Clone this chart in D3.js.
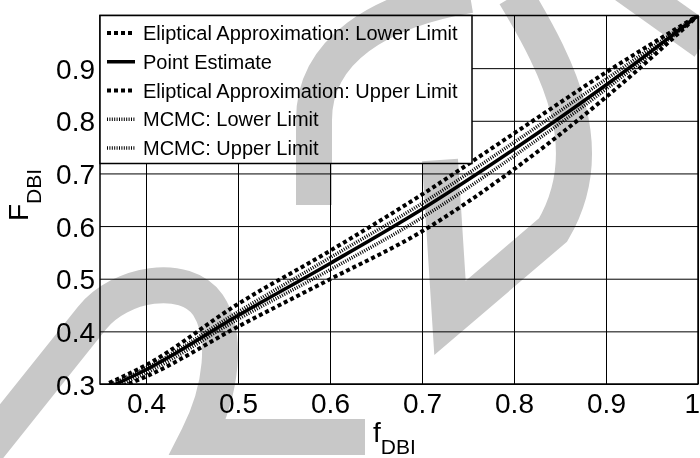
<!DOCTYPE html>
<html>
<head>
<meta charset="utf-8">
<script src="https://cdn.jsdelivr.net/npm/d3@7"></script>
<style>
  body { margin: 0; background: #fff; }
  svg { display: block; font-family: "Liberation Sans", Arial, sans-serif; }
</style>
</head>
<body>
<div id="chart"></div>
<script>
// values
var fDBI          = [0.36, 0.40, 0.50, 0.60, 0.70, 0.80, 0.90, 1.00];
var ellipLower    = [0.286, 0.314, 0.409, 0.499, 0.590, 0.708, 0.845, 1.00];
var pointEstimate = [0.294, 0.327, 0.430, 0.529, 0.632, 0.746, 0.868, 1.00];
var ellipUpper    = [0.302, 0.336, 0.452, 0.553, 0.660, 0.776, 0.892, 1.00];
var mcmcLower     = [0.290, 0.321, 0.423, 0.517, 0.616, 0.733, 0.860, 1.00];
var mcmcUpper     = [0.298, 0.330, 0.437, 0.540, 0.643, 0.759, 0.879, 1.00];

var xTicks = [0.4, 0.5, 0.6, 0.7, 0.8, 0.9, 1];
var yTicks = [0.3, 0.4, 0.5, 0.6, 0.7, 0.8, 0.9];

var seriesNames = ["Eliptical Approximation: Lower Limit", "Point Estimate",
  "Eliptical Approximation: Upper Limit", "MCMC: Lower Limit", "MCMC: Upper Limit"];
var seriesValues = [ellipLower, pointEstimate, ellipUpper, mcmcLower, mcmcUpper];

var width = 700, height = 458;
var margin = { top: 15.5, right: 2, bottom: 74, left: 100 };

var svg = d3.select("#chart").append("svg")
  .attr("width", width)
  .attr("height", height);

var x = d3.scaleLinear().domain([0.35, 1.0]).range([margin.left, width - margin.right]);
var y = d3.scaleLinear().domain([0.3, 1.0]).range([height - margin.bottom, margin.top]);

// line styles per series
var styles = [
  { w: 4, dash: "4,3" },
  { w: 3.5, dash: null },
  { w: 4, dash: "4,3" },
  { w: 3.5, dash: "1,1.4" },
  { w: 3.5, dash: "1,1.4" }
];

svg.append("clipPath").attr("id", "plot-clip")
  .append("rect")
  .attr("x", x(0.35)).attr("y", y(1))
  .attr("width", x(1) - x(0.35)).attr("height", y(0.3) - y(1));

// grid
svg.append("g")
  .attr("transform", "translate(0," + y(0.3) + ")")
  .call(d3.axisBottom(x).tickValues(xTicks).tickSize(-(y(0.3) - y(1))).tickFormat(""))
  .call(function(g) { g.select(".domain").remove(); })
  .selectAll("line").attr("stroke", "#000").attr("stroke-width", 1);

svg.append("g")
  .attr("transform", "translate(" + x(0.35) + ",0)")
  .call(d3.axisLeft(y).tickValues(yTicks).tickSize(-(x(1) - x(0.35))).tickFormat(""))
  .call(function(g) { g.select(".domain").remove(); })
  .selectAll("line").attr("stroke", "#000").attr("stroke-width", 1);

// curves
var line = d3.line()
  .x(function(d) { return x(d[0]); })
  .y(function(d) { return y(d[1]); })
  .curve(d3.curveMonotoneX);

var curves = svg.append("g").attr("clip-path", "url(#plot-clip)");
seriesValues.forEach(function(vals, i) {
  curves.append("path")
    .datum(fDBI.map(function(f, j) { return [f, vals[j]]; }))
    .attr("d", line)
    .attr("fill", "none")
    .attr("stroke", "#000")
    .attr("stroke-width", styles[i].w)
    .attr("stroke-dasharray", styles[i].dash);
});

// box
svg.append("rect")
  .attr("x", x(0.35)).attr("y", y(1))
  .attr("width", x(1) - x(0.35)).attr("height", y(0.3) - y(1))
  .attr("fill", "none").attr("stroke", "#000").attr("stroke-width", 1.5);

// tick labels
var xAxis = svg.append("g")
  .attr("transform", "translate(0," + y(0.3) + ")")
  .call(d3.axisBottom(x).tickValues(xTicks).tickSize(0).tickPadding(29)
    .tickFormat(function(d) { return d === 1 ? "1" : d3.format(".1f")(d); }));
xAxis.select(".domain").remove();
xAxis.selectAll("text").attr("font-size", 28).attr("fill", "#000")
  .attr("font-family", "Liberation Sans, Arial, sans-serif").attr("dy", 0);
// last label sits against the right edge
xAxis.selectAll(".tick").filter(function(d) { return d === 1; })
  .select("text").attr("text-anchor", "end").attr("x", 1.5);

var yAxis = svg.append("g")
  .attr("transform", "translate(" + x(0.35) + ",0)")
  .call(d3.axisLeft(y).tickValues(yTicks).tickSize(0).tickPadding(5).tickFormat(d3.format(".1f")));
yAxis.select(".domain").remove();
yAxis.selectAll("text").attr("font-size", 28).attr("fill", "#000")
  .attr("font-family", "Liberation Sans, Arial, sans-serif").attr("dy", "0.36em");

// axis titles
var xt = svg.append("text").attr("x", 373).attr("y", 442).attr("font-size", 28);
xt.append("tspan").text("f");
xt.append("tspan").attr("font-size", 21).attr("dy", 12).text("DBI");

var yt = svg.append("text")
  .attr("transform", "translate(28,221) rotate(-90)")
  .attr("font-size", 28);
yt.append("tspan").text("F");
yt.append("tspan").attr("font-size", 21).attr("dy", 13).text("DBI");

// legend
var legend = svg.append("g");
legend.append("rect")
  .attr("x", x(0.35)).attr("y", y(1))
  .attr("width", 372).attr("height", 148)
  .attr("fill", "#fff").attr("stroke", "#000").attr("stroke-width", 1.5);

seriesNames.forEach(function(name, i) {
  var base = 40 + i * 28.75;
  legend.append("line")
    .attr("x1", 107).attr("x2", 135)
    .attr("y1", base - 7).attr("y2", base - 7)
    .attr("stroke", "#000")
    .attr("stroke-width", styles[i].w)
    .attr("stroke-dasharray", styles[i].dash);
  legend.append("text")
    .attr("x", 143).attr("y", base)
    .attr("font-size", 20)
    .text(name);
});

// grey watermark strokes laid over the figure (multiply keeps black on top)
var marks = [
  "M -15,452 L 92,318 C 120,283 185,272 208,305 C 228,335 222,390 198,437 L 365,437",
  "M 314,205 L 314,120 C 314,50 380,10 470,-5",
  "M 515,-5 C 560,70 600,150 553,230 L 450,318 L 440,160",
  "M 625,-15 L 705,42"
];
svg.append("g").style("mix-blend-mode", "multiply")
  .selectAll("path").data(marks).enter().append("path")
  .attr("d", function(d) { return d; })
  .attr("fill", "none")
  .attr("stroke", "#c8c8c8")
  .attr("stroke-width", 36)
  .attr("stroke-linejoin", "miter");
</script>
</body>
</html>
